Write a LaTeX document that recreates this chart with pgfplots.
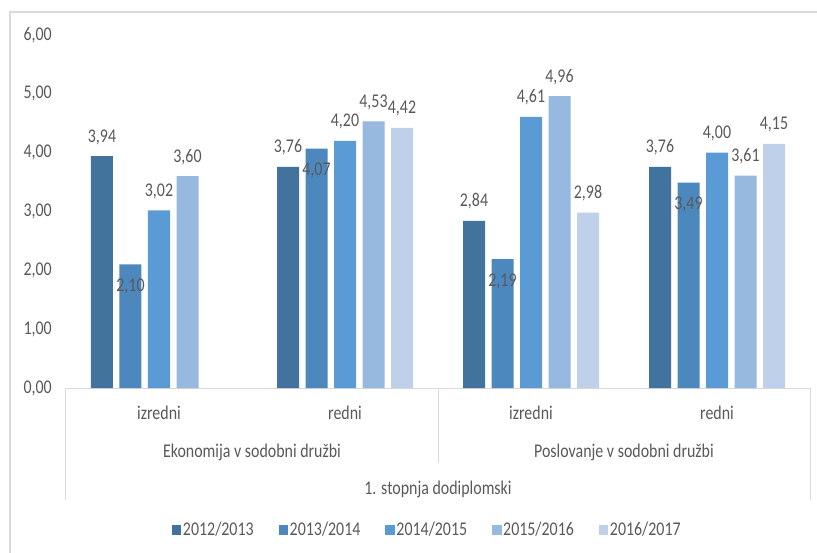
\documentclass[border=0pt]{standalone}
\usepackage{pgfplots}
\pgfplotsset{compat=1.18}
\usepackage{fontspec}
\setmainfont{Carlito}[FakeStretch=0.82]
\definecolor{cA}{RGB}{66,114,158}
\definecolor{cB}{RGB}{76,136,190}
\definecolor{cC}{RGB}{91,155,213}
\definecolor{cD}{RGB}{151,185,224}
\definecolor{cE}{RGB}{190,208,234}
\definecolor{textgray}{RGB}{89,89,89}
\definecolor{linegray}{RGB}{217,217,217}
\pgfplotsset{/pgf/number format/assume math mode=true}
\begin{document}
\fontsize{19.5}{22}\selectfont
\begin{tikzpicture}
\path[use as bounding box] (-66bp,-165bp) rectangle (751bp,388bp);
\draw[linegray, line width=1.5bp] (-56bp,-400bp) -- (-56bp,376bp) -- (1000bp,376bp);
\begin{axis}[
  at={(0,0)}, anchor=south west,
  width=744bp, height=353bp, scale only axis,
  xmin=-0.5, xmax=3.5, ymin=0, ymax=6,
  ybar=6.5bp, bar width=22bp,
  axis x line*=bottom, axis y line*=left,
  x axis line style={draw=linegray, line width=1bp, -},
  y axis line style={draw=none},
  xtick={0,1,2,3}, xticklabels={izredni,redni,izredni,redni},
  xticklabel style={anchor=base, yshift=-31bp, text=textgray, inner sep=0pt},
  ytick={0,1,2,3,4,5,6},
  yticklabel={\pgfmathprintnumber[fixed,fixed zerofill,precision=2,use comma]{\tick}},
  yticklabel style={anchor=east, inner sep=0pt, xshift=-14bp, text=textgray},
  major tick length=0pt,
  tick style={draw=none},
  clip=false,
  nodes near coords={\pgfmathprintnumber[fixed,fixed zerofill,precision=2,use comma]{\pgfplotspointmeta}},
  visualization depends on={value \thisrow{dy}\as\dy},
  nodes near coords style={anchor=base, yshift=\dy bp, text=textgray, inner sep=0pt},
  legend columns=-1,
  legend style={at={(rel axis cs:0.4853,0)}, yshift=-142bp, anchor=center, draw=none, fill=none,
    text=textgray, nodes={inner sep=1.5bp},
    /tikz/every even column/.append style={column sep=23.5bp}},
  legend image code/.code={\fill[#1, draw=none] (0bp,-5bp) rectangle (9.5bp,5bp);},
]
\addplot[fill=cA, draw=none] table[x=x,y=y] {
x y dy
0 3.94 14
1 3.76 14
2 2.84 14
3 3.76 14
};
\addplot[fill=cB, draw=none] table[x=x,y=y] {
x y dy
0 2.10 -27
1 4.07 -27
2 2.19 -27
3 3.49 -27
};
\addplot[fill=cC, draw=none] table[x=x,y=y] {
x y dy
0 3.02 14
1 4.20 14
2 4.61 14
3 4.00 14
};
\addplot[fill=cD, draw=none] table[x=x,y=y] {
x y dy
0 3.60 14
1 4.53 14
2 4.96 14
3 3.61 14
};
\addplot[fill=cE, draw=none] table[x=x,y=y] {
x y dy
1 4.42 14
2 2.98 14
3 4.15 14
};
\legend{2012/2013,2013/2014,2014/2015,2015/2016,2016/2017}
\draw[linegray, line width=1bp] (axis cs:-0.5,0) -- ++(0pt,-112bp);
\draw[linegray, line width=1bp] (axis cs:3.5,0) -- ++(0pt,-112bp);
\draw[linegray, line width=1bp] (axis cs:1.5,0) -- ++(0pt,-75bp);
\node[anchor=base, text=textgray, inner sep=0pt] at ([yshift=-69bp]axis cs:0.5,0) {Ekonomija v sodobni družbi};
\node[anchor=base, text=textgray, inner sep=0pt] at ([yshift=-69bp]axis cs:2.5,0) {Poslovanje v sodobni družbi};
\node[anchor=base, text=textgray, inner sep=0pt] at ([yshift=-106bp]axis cs:1.5,0) {1. stopnja dodiplomski};
\end{axis}
\end{tikzpicture}
\end{document}
